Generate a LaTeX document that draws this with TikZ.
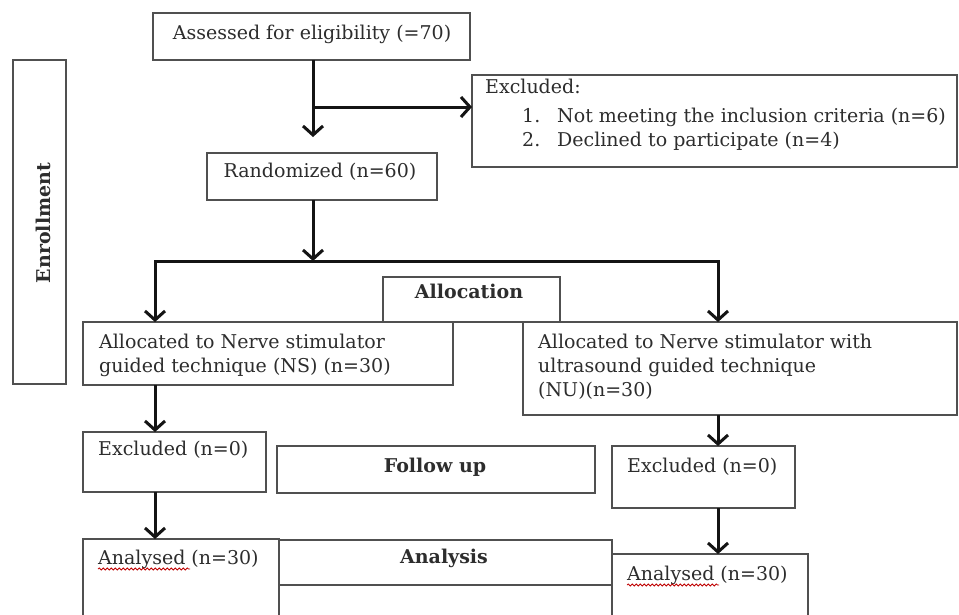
\documentclass[tikz,border=0pt]{standalone}
\usepackage{fontspec}
\setmainfont{DejaVu Serif}
\usetikzlibrary{arrows.meta,decorations.pathmorphing}
\definecolor{txtc}{RGB}{45,45,45}
\definecolor{bord}{RGB}{80,80,80}
\definecolor{arr}{RGB}{20,20,20}
\begin{document}
\begin{tikzpicture}[x=1pt,y=-1pt,
  box/.style={draw=bord,line width=1.6pt,fill=white,anchor=north west,inner sep=0pt,outer sep=0pt},
  txt/.style={text=txtc,font=\fontsize{19}{24}\selectfont,inner sep=0pt,anchor=base west},
  ctxt/.style={txt,anchor=base},
  btxt/.style={ctxt,font=\fontsize{19}{24}\selectfont\bfseries},
  flow/.style={draw=arr,line width=3pt,-{Straight Barb[length=9pt,width=20pt]}},
  squig/.style={draw=red!75!black,line width=0.8pt,decorate,decoration={snake,amplitude=1pt,segment length=4pt}}]
\useasboundingbox (0,0) rectangle (959,614);
\fill[white] (0,0) rectangle (959,614);
\clip (0,0) rectangle (959,614);

% boxes
\node[box,minimum width=317pt,minimum height=47pt] (assess) at (153,13) {};
\node[box,minimum width=485pt,minimum height=92pt] (excl) at (472,75) {};
\node[box,minimum width=230pt,minimum height=47pt] (rand) at (207,153) {};
\node[box,minimum width=53pt,minimum height=324pt] (enroll) at (13,60) {};
\node[box,minimum width=177pt,minimum height=45pt] (alloc) at (383,277) {};
\node[box,minimum width=370pt,minimum height=63pt] (ns) at (83,322) {};
\node[box,minimum width=434pt,minimum height=93pt] (nu) at (523,322) {};
\node[box,minimum width=183pt,minimum height=60pt] (exL) at (83,432) {};
\node[box,minimum width=318pt,minimum height=47pt] (follow) at (277,446) {};
\node[box,minimum width=183pt,minimum height=62pt] (exR) at (612,446) {};
\node[box,minimum width=196pt,minimum height=80pt] (anL) at (83,539) {};
\node[box,minimum width=333pt,minimum height=45pt] (analysis) at (279,540) {};
\node[box,minimum width=196pt,minimum height=70pt] (anR) at (612,554) {};

% texts
\node[ctxt] (assesst) at (312,39) {Assessed for eligibility (=70)};
\node[txt] (exclt) at (485,93) {Excluded:};
\node[txt] (excl1n) at (522,122) {1.};
\node[txt] (excl1) at (557,122) {Not meeting the inclusion criteria (n=6)};
\node[txt] (excl2n) at (522,146) {2.};
\node[txt] (excl2) at (557,146) {Declined to participate (n=4)};
\node[ctxt] (randt) at (320,177) {Randomized (n=60)};
\node[text=txtc,font=\fontsize{19}{24}\selectfont\bfseries,inner sep=0pt,rotate=90] (enrollt) at (43,223) {Enrollment};
\node[btxt] (alloct) at (469,298) {Allocation};
\node[txt] (ns1) at (99,348) {Allocated to Nerve stimulator};
\node[txt] (ns2) at (99,372) {guided technique (NS) (n=30)};
\node[txt] (nu1) at (538,348) {Allocated to Nerve stimulator with};
\node[txt] (nu2) at (538,372) {ultrasound guided technique};
\node[txt] (nu3) at (538,396) {(NU)(n=30)};
\node[txt] (exLt) at (98,455) {Excluded (n=0)};
\node[btxt] (followt) at (435,472) {Follow up};
\node[txt] (exRt) at (627,472) {Excluded (n=0)};
\node[txt] (anLt) at (98,564) {Analysed (n=30)};
\node[btxt] (analysist) at (444,563) {Analysis};
\node[txt] (anRt) at (627,580) {Analysed (n=30)};
\draw[squig] ([yshift=-5pt]anLt.base west) -- ++(92,0);
\draw[squig] ([yshift=-5pt]anRt.base west) -- ++(92,0);

% connectors
\coordinate (a1) at (313,137);
\coordinate (s1) at (313,107);
\coordinate (br) at (313,261);
\coordinate (bl) at (155,261);
\coordinate (brr) at (718,261);
\coordinate (lc) at (155,0);
\coordinate (rc) at (718,0);
\draw[flow] (assess.south -| a1) -- (a1);
\draw[flow] (s1) -- (s1 -| excl.west);
\draw[flow] (rand.south -| br) -- (br);
\draw[flow] (br) -- (bl) -- (bl |- ns.north);
\draw[flow] (br) -- (brr) -- (brr |- nu.north);
\draw[flow] (ns.south -| lc) -- (exL.north -| lc);
\draw[flow] (exL.south -| lc) -- (anL.north -| lc);
\draw[flow] (nu.south -| rc) -- (exR.north -| rc);
\draw[flow] (exR.south -| rc) -- (anR.north -| rc);
\end{tikzpicture}
\end{document}
